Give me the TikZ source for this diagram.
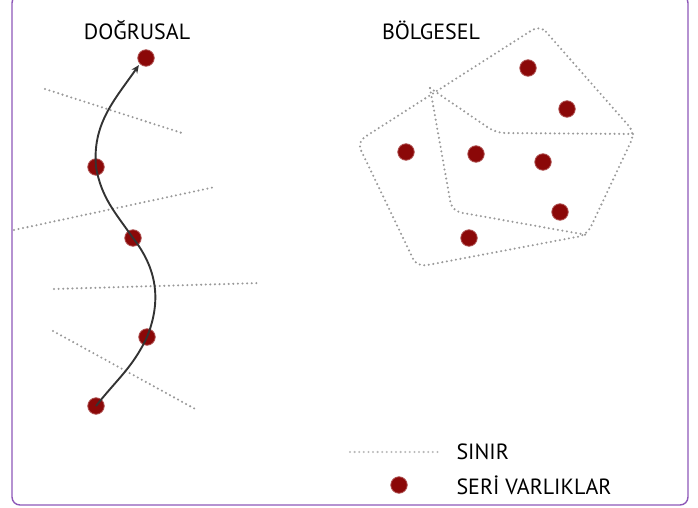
\documentclass[tikz,border=0pt]{standalone}
\usepackage{fontspec}
\setmainfont{PT Sans}
\usepackage{xcolor}
\usetikzlibrary{arrows.meta}
\definecolor{dotred}{RGB}{139,8,8}
\definecolor{framepurple}{RGB}{142,88,184}

\begin{document}
\begin{tikzpicture}[x=1pt, y=1pt,
    seri/.style = {circle, fill=dotred, draw=dotred!70, line width=0.8pt, inner sep=0pt, minimum size=16.5pt},
    sinir/.style = {gray!80, line width=2.3pt, dash pattern=on 0pt off 4.6pt, line cap=round},
    yol/.style = {black!80, line width=1.9pt, -{Stealth[length=8pt,width=7pt]}},
    baslik/.style = {font=\fontsize{22}{26}\selectfont}]
    \useasboundingbox (0,0) rectangle (698,507);
    \draw[framepurple, line width=1.4pt, rounded corners=8pt] (12,2) rectangle (688,512);

    \node[baslik] (t1) at (137,477) {DOĞRUSAL};
    \node[baslik] (t2) at (431,477) {BÖLGESEL};

    % dogrusal sinirlar
    \draw[sinir] (45,418) -- (185,373);
    \draw[sinir] (14,277) -- (215,320);
    \draw[sinir] (54,218) -- (260,224);
    \draw[sinir] (53,176) -- (197,97);

    \node[seri] (1) at (96,101) {};
    \node[seri] (2) at (147,170) {};
    \node[seri] (3) at (133,269) {};
    \node[seri] (4) at (96,340) {};
    \node[seri] (5) at (146,449) {};

    \draw[yol] (1.center) to[out=52,in=-115] (2.center) to[out=68,in=-52] (3.center)
        to[out=125,in=-80] (4.center) to[out=95,in=-125] ([shift={(-1,-1)}]5.south west);

    % bolgesel sinirlar
    \draw[sinir, rounded corners=9pt] (540,482) -- (635,374) -- (587,272) -- (417,240) -- (357,365) -- cycle;
    \draw[sinir, rounded corners=9pt] (430,419) -- (452,296) -- (587,272);
    \draw[sinir, rounded corners=9pt] (430,419) -- (496,374) -- (637,373);

    \node[seri] (6) at (528,439) {};
    \node[seri] (7) at (567,398) {};
    \node[seri] (8) at (406,355) {};
    \node[seri] (9) at (476,353) {};
    \node[seri] (10) at (543,345) {};
    \node[seri] (11) at (560,295) {};
    \node[seri] (12) at (469,269) {};

    % lejant
    \coordinate (k1) at (350,55);
    \coordinate (k2) at (440,55);
    \draw[sinir, gray!55] (k1) -- (k2);
    \node[baslik, anchor=west] (s1) at (453,55) {SINIR};
    \node[seri] (13) at (399,22) {};
    \node[baslik, anchor=west] (s2) at (453,22) {SERİ VARLIKLAR};
\end{tikzpicture}
\end{document}
